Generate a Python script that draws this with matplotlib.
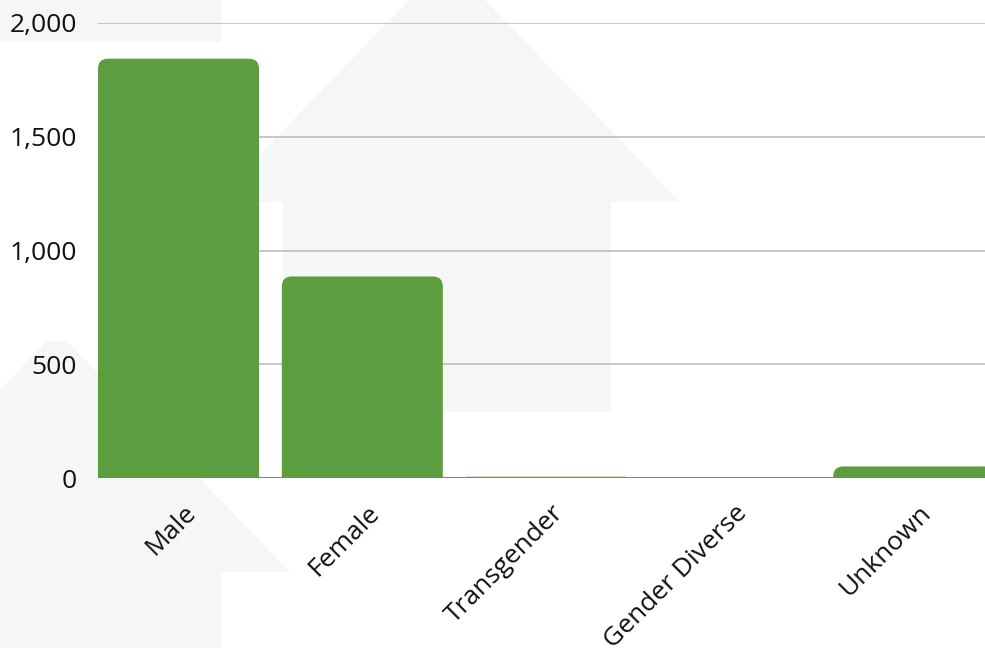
import numpy as np
import matplotlib
matplotlib.use("Agg")
import matplotlib.pyplot as plt
from matplotlib.path import Path
from matplotlib.patches import PathPatch, Polygon
import matplotlib.transforms as mtransforms
from matplotlib.ticker import FuncFormatter

# data
categories = ["Male", "Female", "Transgender", "Gender Diverse", "Unknown"]
counts = [1842, 886, 7, 4, 52]
y_ticks = [0, 500, 1000, 1500, 2000]

BAR_COLOR = "#5c9e3f"
DECOR_COLOR = "#f5f7f6"
W, H = 985, 648

plt.rcParams["font.family"] = ["Open Sans", "DejaVu Sans"]

fig = plt.figure(figsize=(W / 100, H / 100), dpi=100)
fig.patch.set_facecolor("white")

# faint house/arrow shapes behind the chart (figure pixel coords)
bg = fig.add_axes([0, 0, 1, 1], zorder=0)
bg.set_xlim(0, W)
bg.set_ylim(H, 0)
bg.axis("off")


def arrow(cx, base_y):
    head = [(cx - 233, base_y), (cx - 10, base_y - 231), (cx + 10, base_y - 231), (cx + 233, base_y)]
    stem = [(cx - 164, base_y), (cx - 164, base_y + 210), (cx + 164, base_y + 210), (cx + 164, base_y)]
    bg.add_patch(Polygon(head, closed=True, facecolor=DECOR_COLOR, edgecolor="none"))
    bg.add_patch(Polygon(stem, closed=True, facecolor=DECOR_COLOR, edgecolor="none"))


arrow(57, -168)
arrow(447, 202)
arrow(57, 572)

# main chart
ax_left, ax_bottom = 98 / W, 1 - 478.3 / H
ax_top = 1 - 22.7 / H
ax = fig.add_axes([ax_left, ax_bottom, 1 - ax_left, ax_top - ax_bottom], zorder=1)
ax.patch.set_visible(False)

bar_w = 0.876
x = np.arange(len(categories))
ax.set_xlim(-bar_w / 2, -bar_w / 2 + (W - 98) / 183.8)
ax.set_ylim(0, 2000)

# rounded top corners (radius ~10 px)
ax_w_px = (1 - ax_left) * W
ax_h_px = (ax_top - ax_bottom) * H
xr_per_px = (ax.get_xlim()[1] - ax.get_xlim()[0]) / ax_w_px
yr_per_px = 2000 / ax_h_px
r_px = 10
for xi, v in zip(x, counts):
    x0, x1 = xi - bar_w / 2, xi + bar_w / 2
    ry = min(r_px * yr_per_px, v)
    rx = r_px * xr_per_px * (ry / (r_px * yr_per_px))
    verts = [(x0, 0), (x0, v - ry), (x0, v), (x0 + rx, v),
             (x1 - rx, v), (x1, v), (x1, v - ry), (x1, 0), (x0, 0)]
    codes = [Path.MOVETO, Path.LINETO, Path.CURVE3, Path.CURVE3,
             Path.LINETO, Path.CURVE3, Path.CURVE3, Path.LINETO, Path.CLOSEPOLY]
    ax.add_patch(PathPatch(Path(verts, codes), facecolor=BAR_COLOR, edgecolor="none", zorder=3))

# grid and baseline
ax.set_yticks(y_ticks)
ax.yaxis.set_major_formatter(FuncFormatter(lambda v, p: f"{int(v):,}"))
for t in y_ticks[1:]:
    ax.axhline(t, color="#bdbdbd", lw=1.2, zorder=1)
ax.axhline(0, color="#6b6b6b", lw=1.2, zorder=2)

for s in ax.spines.values():
    s.set_visible(False)

ax.tick_params(axis="y", length=0, pad=15, labelsize=19, labelcolor="#111111")
ax.tick_params(axis="x", length=0, pad=0, labelsize=19, labelcolor="#111111")
ax.set_xticks(x)
ax.set_xticklabels(categories, rotation=45, ha="right", va="center", rotation_mode="anchor")
offset = mtransforms.ScaledTranslation(14 / 100, -31 / 100, fig.dpi_scale_trans)
for lbl in ax.get_xticklabels():
    lbl.set_transform(lbl.get_transform() + offset)

fig.savefig("out.png", dpi=100)
